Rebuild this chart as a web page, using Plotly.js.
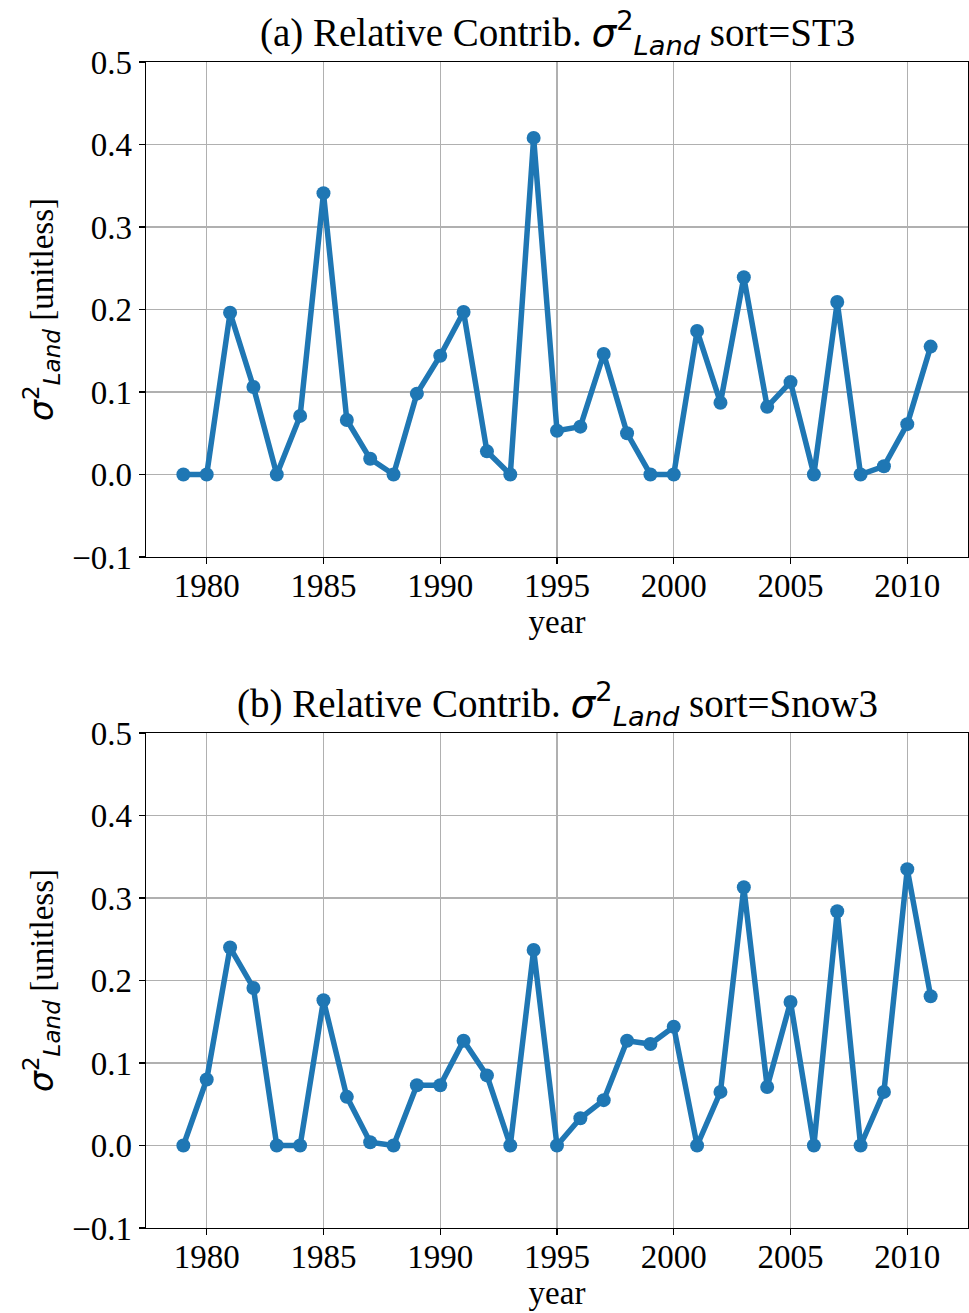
<!DOCTYPE html>
<html>
<head>
<meta charset="utf-8">
<script src="https://cdn.plot.ly/plotly-3.0.1.min.js"></script>
<style>html,body{margin:0;padding:0;background:#fff;}</style>
</head>
<body>
<div id="chart" style="width:969px;height:1313px;"></div>
<script>
const years = [1979,1980,1981,1982,1983,1984,1985,1986,1987,1988,1989,1990,1991,1992,1993,1994,1995,1996,1997,1998,1999,2000,2001,2002,2003,2004,2005,2006,2007,2008,2009,2010,2011];
const sortST3 = [0,0,0.196,0.106,0,0.071,0.341,0.066,0.019,0,0.098,0.144,0.197,0.028,0,0.408,0.053,0.058,0.146,0.050,0,0,0.174,0.087,0.239,0.082,0.112,0,0.209,0,0.010,0.061,0.155];
const sortSnow3 = [0,0.080,0.240,0.191,0,0,0.176,0.059,0.004,0,0.073,0.073,0.127,0.085,0,0.237,0,0.033,0.055,0.127,0.123,0.144,0,0.065,0.313,0.071,0.174,0,0.284,0,0.065,0.335,0.181];
const xTicks = [1980,1985,1990,1995,2000,2005,2010];
const yTicks = [-0.1,0,0.1,0.2,0.3,0.4,0.5];
const yTickText = ['\u22120.1','0.0','0.1','0.2','0.3','0.4','0.5'];
const mathSigma = '<span style="font-family:DejaVu Sans"><i>σ</i><sup>2</sup><sub><i>Land</i></sub></span>';
const titles = ['(a) Relative Contrib. ' + mathSigma + ' sort=ST3',
                '(b) Relative Contrib. ' + mathSigma + ' sort=Snow3'];
const yLabel = mathSigma + ' [unitless]';

const color = '#1f77b4';
const font = {family: 'Liberation Serif, Times New Roman, serif', size: 33, color: '#000'};

function trace(y, xa, ya) {
  return {x: years, y: y, xaxis: xa, yaxis: ya, type: 'scatter', mode: 'lines+markers',
    line: {color: color, width: 5.5}, marker: {color: color, size: 14}, hoverinfo: 'skip'};
}
function xax(anchor) {
  return {range: [1977.4, 2012.6], tickvals: xTicks, ticks: 'outside', ticklen: 6, tickwidth: 1.2,
    tickcolor: '#000', showline: true, linecolor: '#000', linewidth: 1.3, mirror: true,
    showgrid: true, gridcolor: '#b0b0b0', gridwidth: 1.3, zeroline: false, anchor: anchor,
    ticklabelstandoff: -7,
    tickfont: font, title: {text: 'year', font: font, standoff: 0}};
}
function yax(anchor, dom) {
  return {range: [-0.1, 0.5], domain: dom, tickvals: yTicks, ticktext: yTickText, ticks: 'outside',
    ticklen: 6, tickwidth: 1.2, tickcolor: '#000', showline: true, linecolor: '#000', linewidth: 1.3,
    mirror: true, showgrid: true, gridcolor: '#b0b0b0', gridwidth: 1.3, zeroline: false, anchor: anchor,
    tickfont: font, title: {text: yLabel, font: font, standoff: 8}};
}

const layout = {
  width: 969, height: 1313,
  margin: {l: 146, r: 1, t: 62, b: 85},
  paper_bgcolor: '#fff', plot_bgcolor: '#fff',
  showlegend: false, font: font,
  xaxis: Object.assign(xax('y'), {domain: [0, 1]}),
  yaxis: yax('x', [0.5755, 1]),
  xaxis2: Object.assign(xax('y2'), {domain: [0, 1]}),
  yaxis2: yax('x2', [0, 0.4245]),
  annotations: [
    {text: titles[0], xref: 'paper', yref: 'paper', x: 0.5, y: 1, yshift: -1, xanchor: 'center', yanchor: 'bottom', showarrow: false, font: {family: font.family, size: 39, color: '#000'}},
    {text: titles[1], xref: 'paper', yref: 'paper', x: 0.5, y: 0.4245, yshift: -1, xanchor: 'center', yanchor: 'bottom', showarrow: false, font: {family: font.family, size: 39, color: '#000'}}
  ]
};

Plotly.newPlot('chart', [trace(sortST3, 'x', 'y'), trace(sortSnow3, 'x2', 'y2')], layout, {displayModeBar: false, staticPlot: true});
</script>
</body>
</html>
